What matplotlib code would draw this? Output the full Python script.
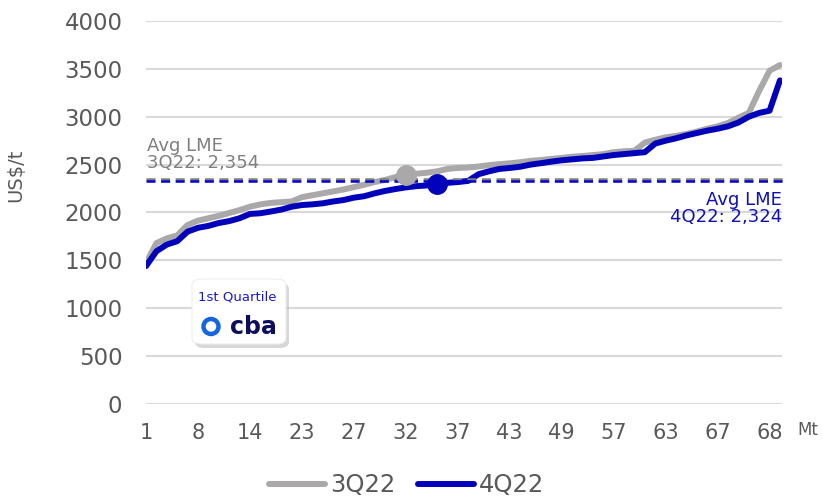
import numpy as np
import matplotlib.pyplot as plt
from matplotlib.patches import FancyBboxPatch, Ellipse

# cost curve points (category axis, one label every 5 points)
q3_cost = [1470, 1680, 1730, 1760, 1870, 1915, 1940, 1965, 1995, 2025,
           2060, 2085, 2100, 2108, 2115, 2160, 2180, 2200, 2220, 2240,
           2265, 2290, 2318, 2340, 2370, 2392, 2405, 2415, 2430, 2455,
           2465, 2470, 2480, 2495, 2505, 2514, 2525, 2540, 2548, 2560,
           2570, 2583, 2590, 2600, 2610, 2630, 2640, 2645, 2730, 2760,
           2785, 2800, 2820, 2845, 2875, 2900, 2935, 2990, 3040, 3270,
           3480, 3540]
q4_cost = [1440, 1595, 1665, 1700, 1800, 1840, 1860, 1890, 1910, 1940,
           1985, 1992, 2010, 2030, 2060, 2078, 2085, 2096, 2115, 2130,
           2155, 2170, 2200, 2225, 2245, 2262, 2275, 2282, 2300, 2310,
           2318, 2330, 2400, 2430, 2455, 2465, 2478, 2500, 2515, 2531,
           2545, 2555, 2565, 2570, 2585, 2600, 2610, 2620, 2630, 2720,
           2750, 2775, 2805, 2830, 2855, 2875, 2900, 2940, 3000, 3040,
           3063, 3380]
x_labels = ['1', '8', '14', '23', '27', '32', '37', '43', '49', '57', '63', '67', '68']
label_step = 5

avg_lme_3q = 2354
avg_lme_4q = 2324
q3_marker_idx = 25
q4_marker_idx = 28

GRAY = '#aaa8a8'
BLUE = '#0202bb'
TXT = '#595959'

plt.rcParams['lines.scale_dashes'] = False
fig = plt.figure(figsize=(8.23, 4.98), dpi=100)
ax = fig.add_axes([0.1774, 0.1888, 0.7728, 0.769])

x = np.arange(len(q3_cost))
ax.plot(x, q3_cost, color=GRAY, lw=4.3, solid_capstyle='round', zorder=2, label='3Q22')
ax.plot(x, q4_cost, color=BLUE, lw=4.3, solid_capstyle='round', zorder=2.1, label='4Q22')

# average LME lines
ax.axhline(avg_lme_3q, xmax=1.005, color='#7f7f7f', lw=1.8, dashes=(6.5, 4), clip_on=False, zorder=3)
ax.axhline(avg_lme_4q, xmax=1.005, color='#0000cc', lw=1.8, dashes=(6.5, 4), clip_on=False, zorder=3)

ax.plot(q3_marker_idx, q3_cost[q3_marker_idx], 'o', ms=14, color=GRAY, zorder=4)
ax.plot(q4_marker_idx, q4_cost[q4_marker_idx], 'o', ms=14, color=BLUE, zorder=4)

ax.annotate('Avg LME\n3Q22: 2,354', xy=(0, avg_lme_3q), xytext=(1, 5), textcoords='offset points',
            ha='left', va='bottom', fontsize=13, color='#7f7f7f', linespacing=0.9)
ax.annotate('Avg LME\n4Q22: 2,324', xy=(1, avg_lme_4q), xycoords=('axes fraction', 'data'),
            xytext=(0, -7), textcoords='offset points',
            ha='right', va='top', fontsize=13, color='#1010b8', linespacing=0.9)

ax.set_ylim(0, 4000)
ax.set_yticks(np.arange(0, 4001, 500))
ax.set_xlim(0, 61.2)
ax.set_xticks(np.arange(len(x_labels)) * label_step)
ax.set_xticklabels(x_labels)
ax.grid(axis='y', color='#d9d9d9', lw=1.5)
ax.set_axisbelow(True)
for s in ax.spines.values():
    s.set_visible(False)
ax.tick_params(axis='y', length=0, pad=17, labelsize=16.5, labelcolor=TXT)
ax.tick_params(axis='x', length=0, pad=14, labelsize=15, labelcolor=TXT)
ax.set_ylabel('US$/t', fontsize=14, color=TXT)
ax.yaxis.set_label_coords(-0.19, 0.598)
ax.annotate('Mt', xy=(1.041, -0.068), xycoords='axes fraction', ha='center', va='center',
            fontsize=12, color=TXT)

# logo box
box = FancyBboxPatch((192 / 823, 1 - 344 / 498), 94 / 823, 65 / 498, boxstyle='round,pad=0,rounding_size=0.012',
                     transform=fig.transFigure, fc='white', ec='#eeeeee', lw=0.8, zorder=6)
shadow = FancyBboxPatch((195 / 823, 1 - 348 / 498), 94 / 823, 65 / 498, boxstyle='round,pad=0,rounding_size=0.012',
                        transform=fig.transFigure, fc='#bdbdbd', ec='none', alpha=0.6, zorder=5)
fig.patches.extend([shadow, box])
fig.text(237 / 823, 1 - 297 / 498, '1st Quartile', ha='center', va='center', fontsize=9.5,
         color='#1a1acc', zorder=7)
fig.text(230 / 823, 1 - 327 / 498, 'cba', ha='left', va='center', fontsize=17, fontweight='bold',
         color='#0d0d5e', zorder=7)
ring = Ellipse((211 / 823, 1 - 326.5 / 498), 15 / 823, 15 / 498, transform=fig.transFigure, fc='none',
               ec='#1565e0', lw=3.2, zorder=7)
fig.patches.append(ring)

fig.legend(loc='center', bbox_to_anchor=(0.494, 0.026), ncol=2, frameon=False, fontsize=17.5,
           handlelength=2.3, handletextpad=0.2, columnspacing=0.95, labelcolor=TXT)

fig.savefig('out.png', dpi=100)
